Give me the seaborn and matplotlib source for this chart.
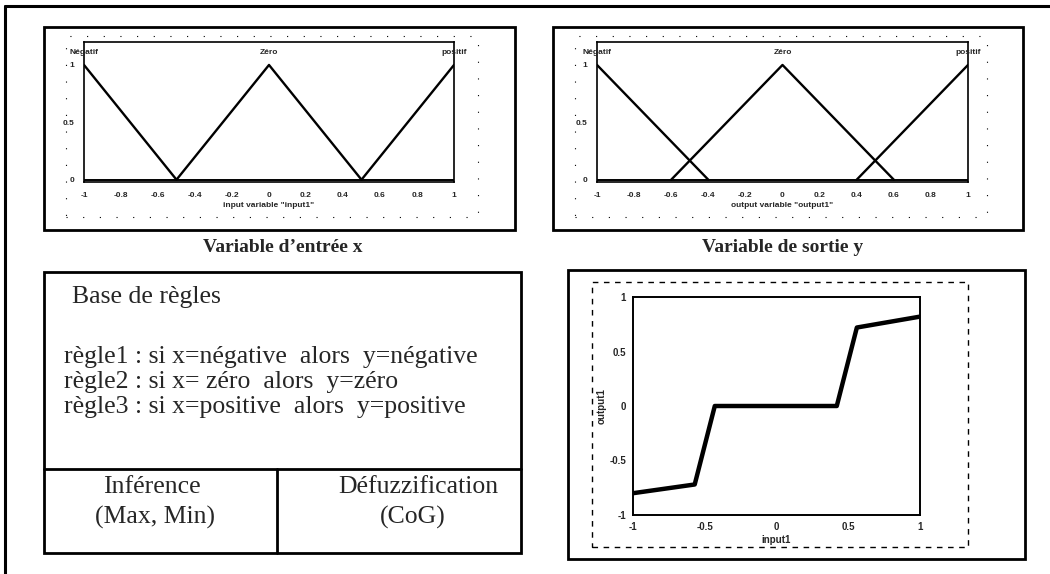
import matplotlib
matplotlib.use("Agg")
import matplotlib.pyplot as plt
import pandas as pd
import seaborn as sns
from matplotlib.patches import Rectangle

W, H = 1050, 574

# ── Data ─────────────────────────────────────────────────────────────
mf_names = ["Négatif", "Zéro", "positif"]
mf_peaks = [-1.0, 0.0, 1.0]

in_neg_x, in_neg_y = [-1.0, -0.5], [1.0, 0.0]
in_zero_x, in_zero_y = [-0.5, 0.0, 0.5], [0.0, 1.0, 0.0]
in_pos_x, in_pos_y = [0.5, 1.0], [0.0, 1.0]

out_neg_x, out_neg_y = [-1.0, -0.4], [1.0, 0.0]
out_zero_x, out_zero_y = [-0.6, 0.0, 0.6], [0.0, 1.0, 0.0]
out_pos_x, out_pos_y = [0.4, 1.0], [0.0, 1.0]

surf_x = [-1.0, -0.57, -0.43, 0.42, 0.56, 1.0]
surf_y = [-0.80, -0.72, 0.0, 0.0, 0.72, 0.82]

mf_ticks = [-1, -0.8, -0.6, -0.4, -0.2, 0, 0.2, 0.4, 0.6, 0.8, 1]
mf_ticklabels = ["-1", "-0.8", "-0.6", "-0.4", "-0.2", "0", "0.2", "0.4", "0.6", "0.8", "1"]
mf_yticks = [0, 0.5, 1]
mf_yticklabels = ["0", "0.5", "1"]
surf_ticks = [-1, -0.5, 0, 0.5, 1]
surf_ticklabels = ["-1", "-0.5", "0", "0.5", "1"]

rules_title = "Base de règles"
rules = [
    "règle1 : si x=négative  alors  y=négative",
    "règle2 : si x= zéro  alors  y=zéro",
    "règle3 : si x=positive  alors  y=positive",
]
captions = ["Variable d’entrée x", "Variable de sortie y"]

sns.set_style("white")
plt.rcParams["font.family"] = ["Liberation Serif", "DejaVu Serif"]

fig = plt.figure(figsize=(W / 100, H / 100), dpi=100)

SANS = ["Liberation Sans", "DejaVu Sans"]
TXT = 18.5


def rect(x0, y0, x1, y1):
    return [x0 / W, 1 - y1 / H, (x1 - x0) / W, (y1 - y0) / H]


def box(x0, y0, x1, y1, lw=2.0, ls="-"):
    fig.add_artist(Rectangle((x0 / W, 1 - y1 / H), (x1 - x0) / W, (y1 - y0) / H,
                             transform=fig.transFigure, fill=False, ec="black",
                             lw=lw, ls=ls))


def line(x0, y0, x1, y1, lw=2.0, ls="-"):
    fig.add_artist(plt.Line2D([x0 / W, x1 / W], [1 - y0 / H, 1 - y1 / H],
                              transform=fig.transFigure, color="black", lw=lw, ls=ls))


def ftext(x, y, s, **kw):
    fig.text(x / W, 1 - y / H, s, **kw)


# ── outer frame and panel boxes ──────────────────────────────────────
line(5, 6, 1050, 6, lw=2.2)
line(5, 6, 5, 574, lw=2.2)
box(44, 27, 515, 230)
box(553, 27, 1023, 230)
box(44, 272, 521, 553)
line(44, 469, 521, 469)
line(277, 469, 277, 553)
box(568, 270, 1025, 559)
box(592, 282, 968, 547, lw=1.0, ls=(0, (4, 4)))
# faint dotted borders of the scanned figure windows
box(66, 36, 478, 217, lw=0.8, ls=(0, (1, 14)))
box(575, 36, 987, 217, lw=0.8, ls=(0, (1, 14)))


def mf_panel(pos, xs, ys, xlabel):
    ax = fig.add_axes(rect(*pos))
    frames = []
    for name, x, y in zip(mf_names, xs, ys):
        frames.append(pd.DataFrame({"x": x, "mu": y, "mf": name}))
    df = pd.concat(frames, ignore_index=True)
    sns.lineplot(data=df, x="x", y="mu", units="mf", estimator=None,
                 color="black", lw=1.7, ax=ax, legend=False)
    ax.axhline(0, color="black", lw=1.4)
    for name, px in zip(mf_names, mf_peaks):
        ax.text(px, 1.105, name, ha="center", va="center", fontsize=6,
                fontweight="bold", family=SANS)
    ax.set_xlim(-1, 1)
    ax.set_ylim(-0.02, 1.2)
    ax.set_xticks(mf_ticks)
    ax.set_xticklabels(mf_ticklabels)
    ax.set_yticks(mf_yticks)
    ax.set_yticklabels(mf_yticklabels)
    ax.tick_params(direction="in", length=3, width=0.8, labelsize=6, pad=7)
    for lab in ax.get_xticklabels() + ax.get_yticklabels():
        lab.set_family(SANS)
        lab.set_fontweight("bold")
    ax.set_xlabel(xlabel, fontsize=6, fontweight="bold", family=SANS, labelpad=2)
    ax.set_ylabel("")
    for sp in ax.spines.values():
        sp.set_color("black")
        sp.set_linewidth(1.2)
    return ax


mf_panel((84, 42, 454, 182), [in_neg_x, in_zero_x, in_pos_x],
         [in_neg_y, in_zero_y, in_pos_y], 'input variable "input1"')
mf_panel((597, 42, 968, 182), [out_neg_x, out_zero_x, out_pos_x],
         [out_neg_y, out_zero_y, out_pos_y], 'output variable "output1"')

# ── captions ─────────────────────────────────────────────────────────
ftext(283, 248, captions[0], ha="center", va="center", fontsize=14, fontweight="bold")
ftext(783, 248, captions[1], ha="center", va="center", fontsize=14, fontweight="bold")

# ── rule base table ──────────────────────────────────────────────────
ftext(72, 297, rules_title, ha="left", va="center", fontsize=TXT)
for i, r in enumerate(rules):
    ftext(64, 357 + 25 * i, r, ha="left", va="center", fontsize=TXT)
ftext(152, 487, "Inférence", ha="center", va="center", fontsize=TXT)
ftext(155, 517, "(Max, Min)", ha="center", va="center", fontsize=TXT)
ftext(418, 487, "Défuzzification", ha="center", va="center", fontsize=TXT)
ftext(413, 517, "(CoG)", ha="center", va="center", fontsize=TXT)

# ── control surface ──────────────────────────────────────────────────
ax = fig.add_axes(rect(633, 297, 920, 515))
surf = pd.DataFrame({"input1": surf_x, "output1": surf_y})
sns.lineplot(data=surf, x="input1", y="output1", color="black", lw=3.2, ax=ax)
ax.set_xlim(-1, 1)
ax.set_ylim(-1, 1)
ax.set_xticks(surf_ticks)
ax.set_xticklabels(surf_ticklabels)
ax.set_yticks(surf_ticks)
ax.set_yticklabels(surf_ticklabels)
ax.tick_params(direction="in", length=3, width=0.8, labelsize=7, pad=5)
for lab in ax.get_xticklabels() + ax.get_yticklabels():
    lab.set_family(SANS)
    lab.set_fontweight("bold")
ax.set_xlabel("input1", fontsize=7, fontweight="bold", family=SANS, labelpad=2)
ax.set_ylabel("output1", fontsize=7, fontweight="bold", family=SANS, labelpad=2)
for sp in ax.spines.values():
    sp.set_color("black")
    sp.set_linewidth(1.4)

fig.savefig("out.png", dpi=100, facecolor="white")
